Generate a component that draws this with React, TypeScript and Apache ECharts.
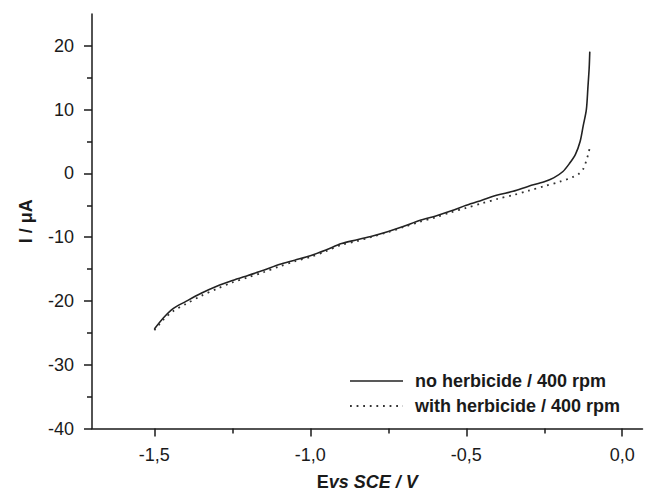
import React, { useEffect, useRef } from "react";
import * as echarts from "echarts";

const xMajorTicks = [-1.5, -1.0, -0.5, 0.0];
const xMinorTicks = [-1.25, -0.75, -0.25];
const yMajorTicks = [-40, -30, -20, -10, 0, 10, 20];
const yMinorTicks = [-35, -25, -15, -5, 5, 15];

const seriesNames = ["no herbicide / 400 rpm", "with herbicide / 400 rpm"];

const noHerbicide: [number, number][] = [
  [-1.5, -24.4], [-1.47, -22.6], [-1.44, -21.2], [-1.4, -20.1], [-1.35, -18.8],
  [-1.3, -17.7], [-1.25, -16.8], [-1.2, -16.0], [-1.15, -15.2], [-1.1, -14.3],
  [-1.05, -13.6], [-1.0, -12.9], [-0.95, -12.0], [-0.9, -11.0], [-0.85, -10.4],
  [-0.8, -9.8], [-0.75, -9.1], [-0.7, -8.3], [-0.65, -7.4], [-0.6, -6.7],
  [-0.55, -5.9], [-0.5, -5.0], [-0.45, -4.2], [-0.4, -3.4], [-0.35, -2.8],
  [-0.3, -2.0], [-0.25, -1.3], [-0.22, -0.7], [-0.19, 0.3], [-0.17, 1.5],
  [-0.15, 3.0], [-0.135, 5.0], [-0.125, 7.5], [-0.115, 10.0], [-0.11, 13.5],
  [-0.106, 16.5], [-0.104, 19.1],
];

const withHerbicide: [number, number][] = [
  [-1.5, -24.6], [-1.47, -22.9], [-1.44, -21.6], [-1.4, -20.5], [-1.35, -19.2],
  [-1.3, -18.1], [-1.25, -17.1], [-1.2, -16.3], [-1.15, -15.5], [-1.1, -14.6],
  [-1.05, -13.8], [-1.0, -13.1], [-0.95, -12.2], [-0.9, -11.2], [-0.85, -10.6],
  [-0.8, -9.9], [-0.75, -9.2], [-0.7, -8.4], [-0.65, -7.6], [-0.6, -6.9],
  [-0.55, -6.1], [-0.5, -5.4], [-0.45, -4.7], [-0.4, -4.0], [-0.35, -3.4],
  [-0.3, -2.7], [-0.25, -2.0], [-0.2, -1.3], [-0.16, -0.6], [-0.14, -0.1],
  [-0.125, 0.7], [-0.115, 2.0], [-0.108, 3.2], [-0.104, 4.1],
];

const X_MIN = -1.7;
const X_MAX = 0.065;
const Y_MIN = -40;
const Y_MAX = 25;

const FONT = "'Liberation Sans', Arial, sans-serif";
const INK = "#1a1a1a";
const SOLID_COLOR = "#222";
const DOT_COLOR = "#333";
const DOT_DASH = [1.8, 4.8];

export default function App() {
  const ref = useRef<HTMLDivElement>(null);
  useEffect(() => {
    if (!ref.current) return;
    const chart = echarts.init(ref.current, undefined, { renderer: "svg" });
    const fmt = (v: number) => v.toFixed(1).replace(".", ",");
    const legendText = {
      fontFamily: FONT,
      fontSize: 18,
      fontWeight: "bold",
      fill: INK,
      verticalAlign: "middle",
      align: "left",
    };
    chart.setOption({
      animation: false,
      backgroundColor: "#ffffff",
      grid: { left: 92, right: 2.5, top: 14, bottom: 65.5, containLabel: false, outerBoundsMode: "none" },
      graphic: [
        {
          type: "line",
          shape: { x1: 350, y1: 381, x2: 403, y2: 381 },
          style: { stroke: SOLID_COLOR, lineWidth: 1.6 },
        },
        {
          type: "text",
          x: 415,
          y: 381,
          style: { text: seriesNames[0], ...legendText },
        },
        {
          type: "line",
          shape: { x1: 350, y1: 406, x2: 403, y2: 406 },
          style: { stroke: DOT_COLOR, lineWidth: 1.8, lineDash: DOT_DASH },
        },
        {
          type: "text",
          x: 415,
          y: 406,
          style: { text: seriesNames[1], ...legendText },
        },
      ],
      xAxis: [
        {
          type: "value",
          min: X_MIN,
          max: X_MAX,
          name: "{a|E}{b|vs SCE / V}",
          nameLocation: "middle",
          nameGap: 44,
          nameTextStyle: {
            rich: {
              a: { fontFamily: FONT, fontSize: 18, fontWeight: "bold", color: INK },
              b: { fontFamily: FONT, fontSize: 18, fontWeight: "bold", fontStyle: "italic", color: INK },
            },
          },
          splitLine: { show: false },
          axisLine: { show: true, onZero: false, lineStyle: { color: INK, width: 1.5 } },
          axisTick: { show: true, length: 8, lineStyle: { color: INK, width: 1.5 }, customValues: xMajorTicks },
          axisLabel: {
            show: true,
            margin: 17,
            customValues: xMajorTicks,
            formatter: fmt,
            fontFamily: FONT,
            fontSize: 18,
            color: INK,
          },
        },
        {
          type: "value",
          min: X_MIN,
          max: X_MAX,
          position: "bottom",
          splitLine: { show: false },
          axisLine: { show: false, onZero: false },
          axisTick: { show: true, length: 5, lineStyle: { color: INK, width: 1.5 }, customValues: xMinorTicks },
          axisLabel: { show: false },
        },
      ],
      yAxis: [
        {
          type: "value",
          min: Y_MIN,
          max: Y_MAX,
          name: "I / μA",
          nameLocation: "middle",
          nameGap: 57,
          nameTextStyle: { fontFamily: FONT, fontSize: 18, fontWeight: "bold", color: INK },
          splitLine: { show: false },
          axisLine: { show: true, onZero: false, lineStyle: { color: INK, width: 1.5 } },
          axisTick: { show: true, length: 8, lineStyle: { color: INK, width: 1.5 }, customValues: yMajorTicks },
          axisLabel: {
            show: true,
            margin: 18,
            customValues: yMajorTicks,
            fontFamily: FONT,
            fontSize: 18,
            color: INK,
          },
        },
        {
          type: "value",
          min: Y_MIN,
          max: Y_MAX,
          position: "left",
          splitLine: { show: false },
          axisLine: { show: false, onZero: false },
          axisTick: { show: true, length: 5, lineStyle: { color: INK, width: 1.5 }, customValues: yMinorTicks },
          axisLabel: { show: false },
        },
      ],
      series: [
        {
          name: seriesNames[0],
          type: "line",
          data: noHerbicide,
          showSymbol: false,
          symbol: "none",
          smooth: 0.3,
          lineStyle: { color: SOLID_COLOR, width: 1.6, type: "solid" },
          itemStyle: { color: SOLID_COLOR },
        },
        {
          name: seriesNames[1],
          type: "line",
          data: withHerbicide,
          showSymbol: false,
          symbol: "none",
          smooth: 0.3,
          lineStyle: { color: DOT_COLOR, width: 1.8, type: DOT_DASH },
          itemStyle: { color: DOT_COLOR },
        },
      ],
    });
    return () => chart.dispose();
  }, []);
  return (
    <div
      ref={ref}
      style={{ position: "fixed", left: 0, top: 0, width: 645, height: 494, background: "#fff" }}
    />
  );
}
